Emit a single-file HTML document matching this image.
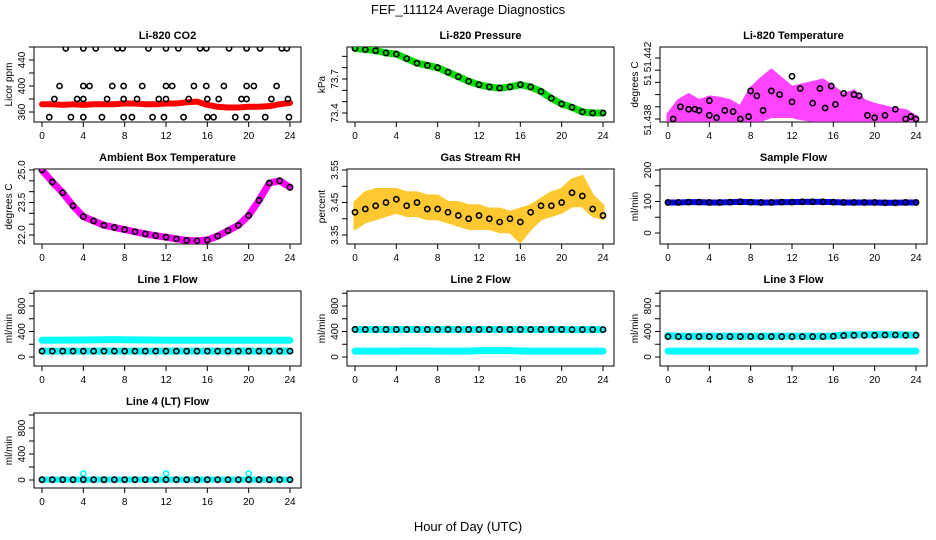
<!DOCTYPE html>
<html><head><meta charset="utf-8"><style>
html,body{margin:0;padding:0;background:#fff}
svg{display:block;font-family:"Liberation Sans",sans-serif}
</style></head><body>
<svg id="chart" width="936" height="540" viewBox="0 0 936 540" xmlns="http://www.w3.org/2000/svg">
<text x="468" y="14" text-anchor="middle" font-size="13">FEF_111124  Average Diagnostics</text>
<text x="468" y="531" text-anchor="middle" font-size="13">Hour of Day (UTC)</text>
</svg>
<script>
const hours = [0,1,2,3,4,5,6,7,8,9,10,11,12,13,14,15,16,17,18,19,20,21,22,23,24];
const xTicks = [0,4,8,12,16,20,24];

const co2Red = [372,372,371,372,371,372,372,372,373,373,372,372,373,373,375,376,371,368,367,367,368,368,369,372,374];
const co2BlackHours = [2.3,4.0,5.2,7.3,7.8,10.3,12.0,13.2,15.3,15.9,18.1,19.8,21.1,23.2,23.7,
 1.7,4.0,4.6,6.8,7.9,9.7,12.0,12.6,14.7,15.9,17.6,19.8,20.5,22.7,
 1.2,3.4,4.0,6.3,7.9,9.2,11.3,12.0,14.2,16.0,17.1,19.3,19.8,22.2,23.8,
 0.7,2.8,4.0,5.8,7.9,8.7,10.7,11.8,13.7,16.0,16.6,18.7,19.8,21.6,23.9];
const co2BlackValues = [458,458,458,458,458,458,458,458,458,458,458,458,458,458,458,
 400,400,400,400,400,400,400,400,400,400,400,400,400,400,
 380,380,380,380,380,380,380,380,380,380,380,380,380,380,380,
 352,352,352,352,352,352,352,352,352,352,352,352,352,352,352];

const pressure = [73.97,73.96,73.95,73.93,73.92,73.88,73.84,73.82,73.80,73.76,73.72,73.68,73.65,73.63,73.62,73.63,73.65,73.63,73.59,73.53,73.48,73.45,73.41,73.40,73.40];

const tempMagHi = [51.4374,51.4385,51.4390,51.4385,51.4388,51.4387,51.4385,51.4380,51.4395,51.4403,51.4410,51.4403,51.4396,51.4398,51.4400,51.4402,51.4396,51.4390,51.4393,51.4385,51.4382,51.4380,51.4378,51.4377,51.4372];
const tempMagLo = [51.4369,51.4369,51.4369,51.4369,51.4369,51.4369,51.4369,51.4369,51.4369,51.4369,51.4372,51.4372,51.4372,51.4370,51.4369,51.4369,51.4369,51.4369,51.4369,51.4369,51.4369,51.4369,51.4369,51.4369,51.4369];
const tempBlackHours = [0.5,1.2,2,2.6,3,4,4,4.7,5.5,6.3,7,7.8,8,8.6,9.2,10,10.8,12,12,12.8,14,14.7,15.2,15.8,16.2,17,18,18.5,19.3,20,21,22,23,23.5,24];
const tempBlackValues = [51.4370,51.4380,51.4378,51.4378,51.4377,51.4385,51.4373,51.4371,51.4377,51.4376,51.4370,51.4372,51.4393,51.4389,51.4377,51.4393,51.4390,51.4384,51.4405,51.4395,51.4383,51.4395,51.4379,51.4397,51.4382,51.4391,51.4390,51.4389,51.4373,51.4371,51.4373,51.4378,51.4370,51.4372,51.4370];

const ambient = [25.0,24.45,23.95,23.35,22.85,22.65,22.45,22.35,22.25,22.15,22.05,21.97,21.9,21.82,21.75,21.73,21.77,21.95,22.2,22.45,22.9,23.6,24.4,24.5,24.2];

const rhBlack = [3.42,3.43,3.44,3.45,3.46,3.44,3.45,3.43,3.43,3.42,3.41,3.40,3.41,3.40,3.39,3.40,3.39,3.42,3.44,3.44,3.45,3.48,3.47,3.43,3.41];
const rhHi = [3.45,3.48,3.49,3.49,3.49,3.48,3.48,3.47,3.47,3.45,3.45,3.44,3.44,3.43,3.43,3.42,3.43,3.44,3.46,3.48,3.49,3.52,3.53,3.47,3.44];
const rhLo = [3.37,3.39,3.40,3.41,3.42,3.41,3.41,3.40,3.40,3.39,3.38,3.37,3.37,3.37,3.36,3.36,3.33,3.37,3.40,3.41,3.42,3.44,3.44,3.41,3.40];

const sampleFlow = [97,97,98,98,97,97,98,99,98,97,97,98,98,99,99,99,98,97,97,97,97,96,96,97,97];

const line1Cyan = [262,262,264,265,266,268,270,272,270,268,266,265,262,262,262,262,262,262,262,262,262,262,262,262,262];
const line1Low = [92,92,92,92,92,92,92,92,92,92,92,92,92,92,92,92,92,92,92,92,92,92,92,92,92];
const line2Black = [432,432,432,432,432,432,432,432,432,432,432,432,432,432,432,432,432,432,432,432,432,430,430,430,430];
const line2Low = [92,92,92,92,92,95,95,95,92,92,92,92,100,100,100,100,95,92,92,92,92,92,92,92,92];
const line3Black = [320,320,320,320,320,320,320,320,320,320,320,320,320,320,320,320,325,335,340,340,340,345,345,340,340];
const line3Cyan = [335,325,325,325,325,325,325,325,325,325,325,325,325,325,325,325,330,345,350,350,350,350,350,345,345];
const line3Low = [92,92,92,92,92,92,92,92,92,92,92,92,92,92,92,92,92,92,92,92,92,92,92,92,92];
const line4Black = [5,5,5,5,5,5,5,5,5,5,5,5,5,5,5,5,5,5,5,5,5,5,5,5,5];
const line4SpikeHours = [4,12,20];
const line4SpikeValues = [100,100,100];

const NS = "http://www.w3.org/2000/svg";
const svg = document.getElementById('chart');
const colLeft = [34, 347, 660];
const rowTop = [47, 169, 291, 413];
const BW = 267, BH = 75;

function mk(tag, attrs, parent) {
  const e = document.createElementNS(NS, tag);
  for (const k in attrs) e.setAttribute(k, attrs[k]);
  (parent || svg).appendChild(e);
  return e;
}

function panel(name, col, row, title, ylab, v1, p1, v2, p2, yTicks, yLabels) {
  const L = colLeft[col], T = rowTop[row];
  const g = mk('g', {});
  
  
  const sx = h => L + 8 + h * (248 / 24);
  const sy = v => T + p1 + (v - v1) * (p2 - p1) / (v2 - v1);
  const box = mk('rect', {x: L, y: T, width: BW, height: BH, fill: 'none', stroke: '#000', 'stroke-width': 1}, g);
  
  
  const t = mk('text', {x: L + BW / 2, y: T - 8, 'text-anchor': 'middle', 'font-size': 11, 'font-weight': 'bold'}, g);
  t.textContent = title;
  
  
  const xa = mk('g', {}, g);
  
  
  mk('line', {x1: sx(0), x2: sx(24), y1: T + BH, y2: T + BH, stroke: '#000'}, xa);
  xTicks.forEach(h => {
    mk('line', {x1: sx(h), x2: sx(h), y1: T + BH, y2: T + BH + 5, stroke: '#000'}, xa);
    const lt = mk('text', {x: sx(h), y: T + BH + 17, 'text-anchor': 'middle', 'font-size': 10}, xa);
    lt.textContent = h;
  });
  const ya = mk('g', {}, g);
  
  
  yTicks.forEach(v => {
    mk('line', {x1: L - 5, x2: L, y1: sy(v), y2: sy(v), stroke: '#000'}, ya);
  });
  yLabels.forEach(lb => {
    const y = lb[1] !== undefined ? lb[1] : sy(lb[0]);
    const lt = mk('text', {x: L - 9, y: y, 'text-anchor': 'middle', 'font-size': 10, transform: `rotate(-90 ${L - 9} ${y})`}, ya);
    lt.textContent = lb[2] || lb[0];
  });
  const yt = mk('text', {x: L - 22, y: T + BH / 2, 'text-anchor': 'middle', 'font-size': 10, transform: `rotate(-90 ${L - 22} ${T + BH / 2})`}, g);
  yt.textContent = ylab;
  
  
  const clip = 'clip' + name;
  const cp = mk('clipPath', {id: clip}, g);
  mk('rect', {x: L, y: T, width: BW, height: BH}, cp);
  const pg = mk('g', {'clip-path': `url(#${clip})`}, g);
  return {
    band(hs, vals, color, w, dname) {
      const pl = mk('polyline', {points: hs.map((h, i) => sx(h) + ',' + sy(vals[i])).join(' '), fill: 'none', stroke: color, 'stroke-width': w, 'stroke-linejoin': 'round', 'stroke-linecap': 'round'}, pg);
      
      
    },
    cloud(hs, lo, hi, color, dname) {
      const pts = hs.map((h, i) => sx(h) + ',' + sy(hi[i])).concat(hs.slice().reverse().map((h, j) => sx(h) + ',' + sy(lo[hs.length - 1 - j])));
      const pl = mk('polygon', {points: pts.join(' '), fill: color, stroke: color, 'stroke-width': 3, 'stroke-linejoin': 'round'}, pg);
      
      
    },
    dots(hs, vals, color, dname) {
      hs.forEach((h, i) => {
        const c = mk('circle', {cx: sx(h), cy: sy(vals[i]), r: 2.6, fill: 'none', stroke: color, 'stroke-width': 1.6}, pg);
        
        
      });
    }
  };
}

let p;
p = panel('co2', 0, 0, 'Li-820 CO2', 'Licor ppm', 360, 65, 400, 39, [360,380,400,420,440,460], [[360],[400],[440]]);
p.band(hours, co2Red, '#f00', 6, 'co2-red-series');
p.dots(co2BlackHours, co2BlackValues, '#000', 'co2-black-point');

p = panel('pressure', 1, 0, 'Li-820 Pressure', 'kPa', 73.4, 66, 73.7, 32, [73.4,73.5,73.6,73.7,73.8,73.9], [[73.4],[73.7]]);
p.band(hours, pressure, '#0d0', 7, 'pressure-green-series');
p.dots(hours, pressure, '#000', 'pressure-black-point');

p = panel('temperature', 2, 0, 'Li-820 Temperature', 'degrees C', 51.437, 72, 51.440, 35.4, [51.437,51.438,51.439,51.44,51.441,51.442], [[51.438,120,'51.438'],[51.44,80,'51'],[51.442,57,'51.442']]);
p.cloud(hours, tempMagLo, tempMagHi, '#f4f', 'temperature-magenta-cloud');
p.dots(tempBlackHours, tempBlackValues, '#000', 'temperature-black-point');

p = panel('ambient', 0, 1, 'Ambient Box Temperature', 'degrees C', 25.0, 1, 22.0, 66, [22,22.5,23,23.5,24,24.5,25], [[22,undefined,'22.0'],[23.5,undefined,'23.5'],[25,undefined,'25.0']]);
p.band(hours, ambient, '#f0f', 7, 'ambient-magenta-series');
p.dots(hours, ambient, '#000', 'ambient-black-point');

p = panel('gas-rh', 1, 1, 'Gas Stream RH', 'percent', 3.55, 1, 3.35, 66, [3.35,3.4,3.45,3.5,3.55], [[3.35],[3.45],[3.55]]);
p.cloud(hours, rhLo, rhHi, '#ffc830', 'rh-orange-cloud');
p.dots(hours, rhBlack, '#000', 'rh-black-point');

p = panel('sample-flow', 2, 1, 'Sample Flow', 'ml/min', 200, 1, 0, 64, [0,50,100,150,200], [[0],[100],[200]]);
p.band(hours, sampleFlow, '#00f', 6, 'sample-blue-series');
p.dots(hours, sampleFlow, '#000', 'sample-black-point');

const flowTicks = [0,200,400,600,800,1000];
const flowLabels = [[0],[400],[800]];
p = panel('line1', 0, 2, 'Line 1 Flow', 'ml/min', 0, 66, 400, 40.5, flowTicks, flowLabels);
p.band(hours, line1Cyan, '#0ff', 7, 'line1-cyan-high');
p.band(hours, line1Low, '#0ff', 7, 'line1-cyan-low');
p.dots(hours, line1Low, '#000', 'line1-black-point');

p = panel('line2', 1, 2, 'Line 2 Flow', 'ml/min', 0, 66, 400, 40.5, flowTicks, flowLabels);
p.band(hours, line2Black, '#0ff', 7, 'line2-cyan-high');
p.band(hours, line2Low, '#0ff', 7, 'line2-cyan-low');
p.dots(hours, line2Black, '#000', 'line2-black-point');

p = panel('line3', 2, 2, 'Line 3 Flow', 'ml/min', 0, 66, 400, 40.5, flowTicks, flowLabels);
p.band(hours, line3Cyan, '#0ff', 7, 'line3-cyan-high');
p.band(hours, line3Low, '#0ff', 7, 'line3-cyan-low');
p.dots(hours, line3Black, '#000', 'line3-black-point');

p = panel('line4', 0, 3, 'Line 4 (LT) Flow', 'ml/min', 0, 67, 400, 41, flowTicks, flowLabels);
p.band(hours, line4Black, '#0ff', 6, 'line4-cyan-series');
p.dots(line4SpikeHours, line4SpikeValues, '#0ff', 'line4-cyan-spike');
p.dots(hours, line4Black, '#000', 'line4-black-point');
</script>
</body></html>
